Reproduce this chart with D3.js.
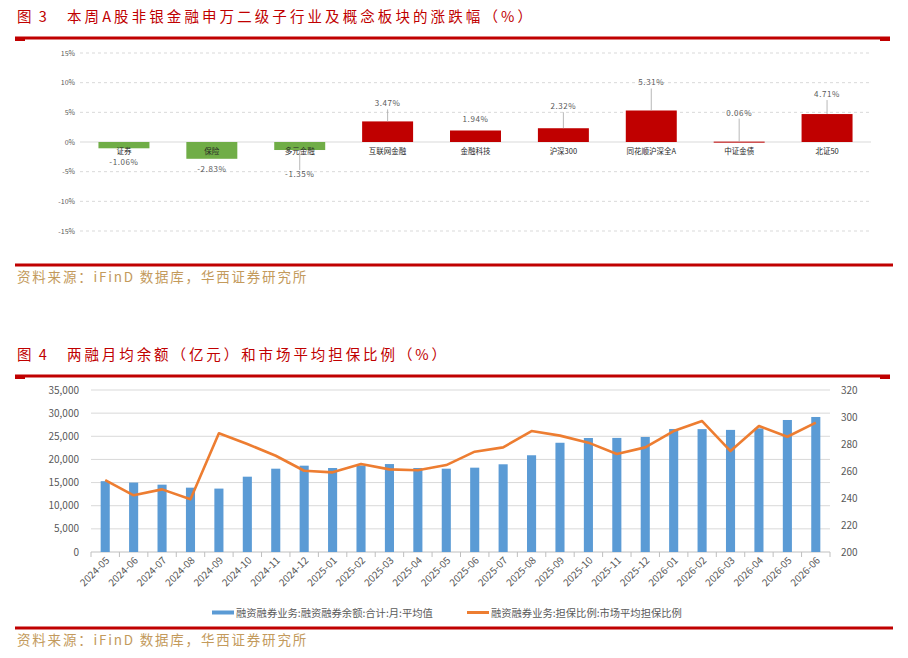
<!DOCTYPE html>
<html>
<head>
<meta charset="utf-8">
<script src="https://cdn.jsdelivr.net/npm/d3@7"></script>
<style>
  body { margin: 0; background: #fff; }
  svg { display: block; font-family: "Noto Sans CJK SC", "Noto Sans", sans-serif; }
</style>
</head>
<body>
<div id="chart"></div>
<script>
// ---- data: figure 3 (weekly change, %) ----
const sectors = ["证券", "保险", "多元金融", "互联网金融", "金融科技", "沪深300", "同花顺沪深全A", "中证金债", "北证50"];
const sectorChange = [-1.06, -2.83, -1.35, 3.47, 1.94, 2.32, 5.31, 0.06, 4.71];
const pctTicks = [15, 10, 5, 0, -5, -10, -15];

// ---- data: figure 4 (margin balance & collateral ratio) ----
const months = ["2024-05", "2024-06", "2024-07", "2024-08", "2024-09", "2024-10", "2024-11", "2024-12",
  "2025-01", "2025-02", "2025-03", "2025-04", "2025-05", "2025-06", "2025-07", "2025-08", "2025-09",
  "2025-10", "2025-11", "2025-12", "2026-01", "2026-02", "2026-03", "2026-04", "2026-05", "2026-06"];
const marginBalance = [15300, 15000, 14550, 13900, 13700, 16270, 18000, 18650,
  18150, 18700, 19000, 18150, 18000, 18220, 18950, 20900, 23600,
  24630, 24650, 24850, 26580, 26550, 26380, 26700, 28520, 29170];
const collateralRatio = [253.3, 242, 246.4, 239, 287.9, 280, 271.3, 260.2,
  259, 265.2, 261.2, 260.5, 264.4, 274.3, 277.5, 289.6, 286.2,
  281, 272.6, 277.5, 289.6, 297, 274.8, 293.3, 285.4, 295.8];
const leftTicks = [0, 5000, 10000, 15000, 20000, 25000, 30000, 35000];
const rightTicks = [200, 220, 240, 260, 280, 300, 320];
const legendNames = ["融资融券业务:融资融券余额:合计:月:平均值", "融资融券业务:担保比例:市场平均担保比例"];

const W = 908, H = 658;
const RED = "#c00000", GOLD = "#c39a5c", GRAY = "#595959";

const svg = d3.select("#chart").append("svg")
  .attr("width", W).attr("height", H);

// squeeze/stretch a text to a given width by changing its font size
function fitWidth(sel, target) {
  const len = sel.node().getComputedTextLength();
  const fs = parseFloat(sel.attr("font-size"));
  if (len > 0) sel.attr("font-size", fs * target / len);
}

// red rules + titles + source lines
function header(y, num, title, titleWidth) {
  svg.append("text").attr("x", 17).attr("y", y - 16)
    .attr("fill", RED).attr("font-size", 14.5).attr("letter-spacing", 2)
    .text("图 " + num);
  const t = svg.append("text").attr("x", 67).attr("y", y - 16)
    .attr("fill", RED).attr("font-size", 14.5).attr("letter-spacing", 3)
    .text(title);
  const len = t.node().getComputedTextLength();
  if (len > 0) t.attr("letter-spacing", 3 + (titleWidth - len) / title.length);
  svg.append("rect").attr("x", 15).attr("y", y - 1.5).attr("width", 875).attr("height", 3).attr("fill", RED);
  svg.append("rect").attr("x", 15).attr("y", y).attr("width", 10).attr("height", 3).attr("fill", RED);
  svg.append("rect").attr("x", 880).attr("y", y).attr("width", 10).attr("height", 3).attr("fill", RED);
}
function footer(y) {
  svg.append("rect").attr("x", 15).attr("y", y - 1.5).attr("width", 878).attr("height", 3).attr("fill", RED);
  svg.append("text").attr("x", 17).attr("y", y + 17)
    .attr("fill", GOLD).attr("font-size", 13.5).attr("letter-spacing", 1.8)
    .text("资料来源：iFinD 数据库，华西证券研究所");
}
header(38, 3, "本周A股非银金融申万二级子行业及概念板块的涨跌幅（%）", 468);
footer(265);
header(376, 4, "两融月均余额（亿元）和市场平均担保比例（%）", 382);
footer(628);

// ---- figure 3 ----
const x1 = d3.scaleBand().domain(sectors).range([80, 871]).paddingInner(0.42).paddingOuter(0.21);
const y1 = d3.scaleLinear().domain([-15, 15]).range([231, 53]);

const g1 = svg.append("g");
g1.selectAll("line.grid").data(pctTicks.filter(d => d !== 0)).enter().append("line")
  .attr("x1", 80).attr("x2", 871)
  .attr("y1", d => y1(d)).attr("y2", d => y1(d))
  .attr("stroke", "#d9d9d9").attr("stroke-dasharray", "3,3");
g1.append("line").attr("x1", 80).attr("x2", 871).attr("y1", y1(0)).attr("y2", y1(0)).attr("stroke", "#d9d9d9");
g1.selectAll("text.tick").data(pctTicks).enter().append("text")
  .attr("x", 75).attr("y", d => y1(d) + 2.5)
  .attr("text-anchor", "end").attr("font-size", 7).attr("fill", GRAY)
  .text(d => d + "%");

const items = sectors.map((s, i) => ({ name: s, v: sectorChange[i] }));
g1.selectAll("rect.bar").data(items).enter().append("rect")
  .attr("x", d => x1(d.name)).attr("width", x1.bandwidth())
  .attr("y", d => y1(Math.max(0, d.v)))
  .attr("height", d => Math.max(1, Math.abs(y1(d.v) - y1(0))))
  .attr("fill", d => d.v < 0 ? "#70ad47" : RED);

g1.selectAll("text.cat").data(items).enter().append("text")
  .attr("x", d => x1(d.name) + x1.bandwidth() / 2).attr("y", y1(0) + 12)
  .attr("text-anchor", "middle").attr("font-size", 7.5).attr("fill", "#262626")
  .text(d => d.name);

// data label distance from the bar end (px), hand placed as in the original
const labelGap = [13, 9, 23, 15, 8.5, 19, 25, 26, 17];
items.forEach((d, i) => {
  const cx = x1(d.name) + x1.bandwidth() / 2;
  const end = y1(d.v);
  const ly = d.v < 0 ? end + labelGap[i] + 4 : end - labelGap[i];
  if (labelGap[i] > 14) {
    g1.append("line").attr("x1", cx).attr("x2", cx)
      .attr("y1", end)
      .attr("y2", d.v < 0 ? ly - 7 : ly + 3)
      .attr("stroke", "#a6a6a6").attr("stroke-width", 0.8);
  }
  g1.append("text").attr("x", cx).attr("y", ly)
    .attr("text-anchor", "middle").attr("font-size", 8).attr("fill", GRAY)
    .attr("letter-spacing", 0.6)
    .text(d.v.toFixed(2) + "%");
});

// ---- figure 4 ----
const x2 = d3.scaleBand().domain(months).range([91, 830]).paddingInner(0.68).paddingOuter(0.34);
const yL = d3.scaleLinear().domain([0, 35000]).range([552, 390]);
const yR = d3.scaleLinear().domain([200, 320]).range([552, 390]);

const g2 = svg.append("g");
g2.selectAll("line.grid").data(leftTicks.filter(d => d > 0)).enter().append("line")
  .attr("x1", 91).attr("x2", 830)
  .attr("y1", d => yL(d)).attr("y2", d => yL(d))
  .attr("stroke", "#d9d9d9");
g2.append("line").attr("x1", 91).attr("x2", 830).attr("y1", 552).attr("y2", 552).attr("stroke", "#bfbfbf");
// tick marks on band boundaries
const step = x2.step();
g2.selectAll("line.tk").data(d3.range(months.length + 1)).enter().append("line")
  .attr("x1", i => 91 + i * step).attr("x2", i => 91 + i * step)
  .attr("y1", 552).attr("y2", 557).attr("stroke", "#bfbfbf");

const fmt = d3.format(",");
g2.selectAll("text.l").data(leftTicks).enter().append("text")
  .attr("x", 79).attr("y", d => yL(d) + 3.5)
  .attr("text-anchor", "end").attr("font-size", 10).attr("fill", GRAY)
  .text(d => fmt(d));
g2.selectAll("text.r").data(rightTicks).enter().append("text")
  .attr("x", 841).attr("y", d => yR(d) + 3.5)
  .attr("font-size", 10).attr("fill", GRAY)
  .text(d => d);

g2.selectAll("rect.bar").data(months).enter().append("rect")
  .attr("x", (m) => x2(m)).attr("width", x2.bandwidth())
  .attr("y", (m, i) => yL(marginBalance[i]))
  .attr("height", (m, i) => 552 - yL(marginBalance[i]))
  .attr("fill", "#5b9bd5");

const line = d3.line()
  .x((v, i) => x2(months[i]) + x2.bandwidth() / 2)
  .y(v => yR(v));
g2.append("path").datum(collateralRatio)
  .attr("d", line).attr("fill", "none")
  .attr("stroke", "#ed7d31").attr("stroke-width", 2.6).attr("stroke-linejoin", "round");

g2.selectAll("text.x").data(months).enter().append("text")
  .attr("transform", m => `translate(${x2(m) + x2.bandwidth() / 2 + 5},${561}) rotate(-45)`)
  .attr("text-anchor", "end").attr("font-size", 10).attr("fill", GRAY)
  .text(m => m);

// legend
const lg = svg.append("g");
[[212, "#5b9bd5", 197], [467, "#ed7d31", 191]].forEach(([lx, c, tw], i) => {
  lg.append("line").attr("x1", lx).attr("x2", lx + 22).attr("y1", 612.5).attr("y2", 612.5)
    .attr("stroke", c).attr("stroke-width", i === 0 ? 4 : 3);
  const t = lg.append("text").attr("x", lx + 24).attr("y", 616.5)
    .attr("font-size", 10.5).attr("fill", GRAY).text(legendNames[i]);
  fitWidth(t, tw);
});
</script>
</body>
</html>
